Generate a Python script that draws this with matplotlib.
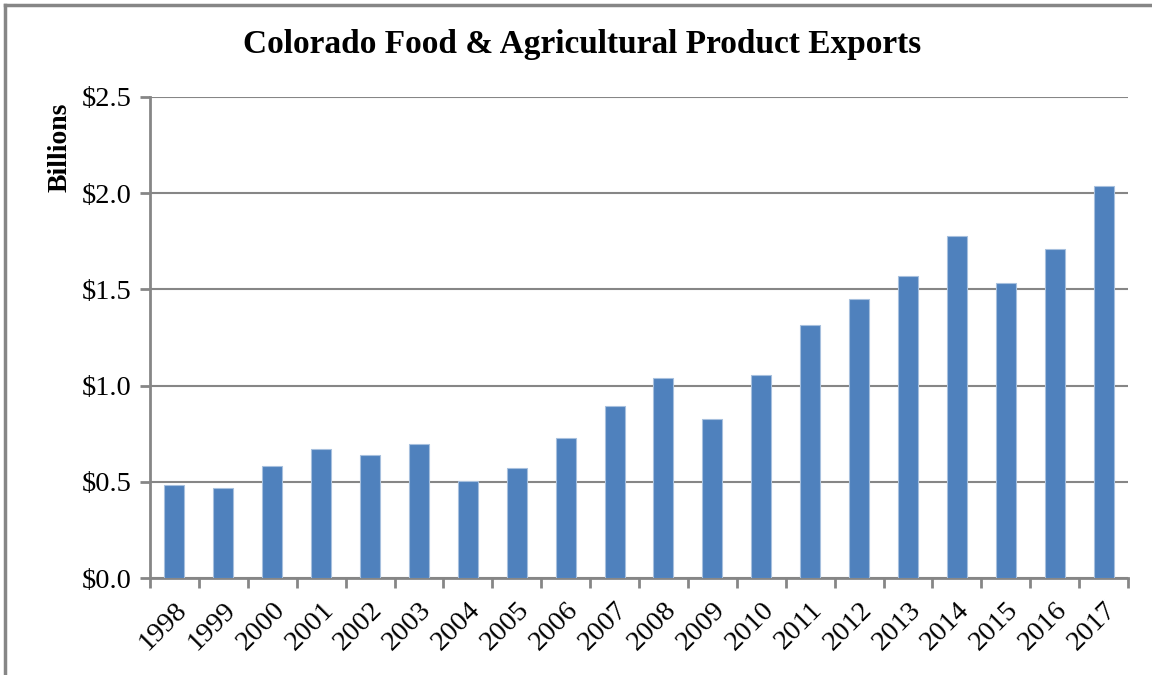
import numpy as np
import matplotlib
matplotlib.use("Agg")
import matplotlib.pyplot as plt
from matplotlib.lines import Line2D

years = [str(y) for y in range(1998, 2018)]
exports = [0.483, 0.466, 0.582, 0.672, 0.641, 0.695, 0.503, 0.573, 0.729, 0.894,
           1.04, 0.826, 1.055, 1.315, 1.45, 1.57, 1.78, 1.533, 1.708, 2.037]
yticks = [0.0, 0.5, 1.0, 1.5, 2.0, 2.5]
ytick_labels = ["$0.0", "$0.5", "$1.0", "$1.5", "$2.0", "$2.5"]

plt.rcParams['font.family'] = ['Liberation Serif', 'DejaVu Serif']
grey = "#868686"

fig = plt.figure(figsize=(11.52, 6.75), dpi=100)
ax = fig.add_axes([150/1152, 1-578/675, (1128-150)/1152, (578-97)/675])

x = np.arange(len(years))
ax.bar(x, exports, width=0.41, color="#4F81BD", edgecolor="#A7C0DE", linewidth=0.8, zorder=3)

ax.set_xlim(-0.5, len(years)-0.5)
ax.set_ylim(0, 2.5)
ax.set_yticks(yticks)
ax.set_yticklabels(ytick_labels, fontsize=20.5)
ax.set_xticks(x)
ax.set_xticklabels(years, rotation=45, ha="right", rotation_mode="anchor", fontsize=20.5)
ax.set_xticks(np.arange(-0.5, len(years)), minor=True)
ax.tick_params(axis="x", which="major", length=0, pad=14)
ax.tick_params(axis="x", which="minor", length=7, width=2, color=grey, direction="out")
ax.tick_params(axis="y", length=7, width=2, color=grey, pad=6)

ax.grid(axis="y", color=grey, linewidth=1.5, zorder=0)
for s in ["top", "right"]:
    ax.spines[s].set_visible(False)
for s in ["left", "bottom"]:
    ax.spines[s].set_color(grey)
    ax.spines[s].set_linewidth(2)

fig.text(60/1152, 1-147/675, "Billions", rotation=90, ha="center", va="center",
         fontsize=20, fontweight="bold")
fig.text(582/1152, 1-45/675, "Colorado Food & Agricultural Product Exports",
         ha="center", va="center", fontsize=24, fontweight="bold")

# outer border of the chart area
fig.add_artist(Line2D([5/1152, 5/1152], [0, 1-5/675], color=grey, linewidth=2.5, transform=fig.transFigure))
fig.add_artist(Line2D([5/1152, 1], [1-5/675, 1-5/675], color=grey, linewidth=2.5, transform=fig.transFigure))

plt.savefig("out.png", dpi=100)
